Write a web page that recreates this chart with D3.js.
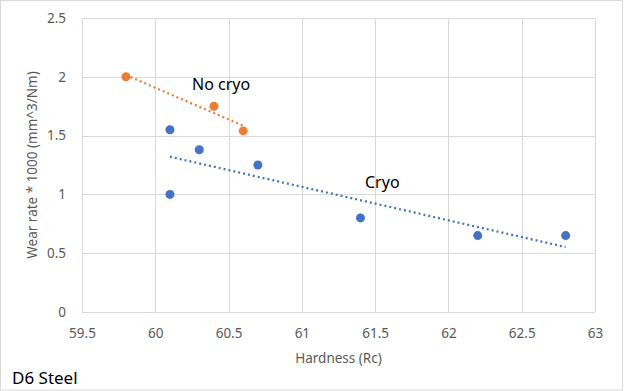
<!DOCTYPE html>
<html>
<head>
<meta charset="utf-8">
<script src="https://cdn.jsdelivr.net/npm/d3@7"></script>
<style>
  body { margin: 0; background: #fff; }
  svg { display: block; font-family: "Noto Sans", "Open Sans", sans-serif; }
</style>
</head>
<body>
<div id="chart"></div>
<script>
// hardness (Rc) vs wear rate * 1000 (mm^3/Nm)
var noCryoX = [59.8, 60.4, 60.6];
var noCryoY = [2.0, 1.75, 1.54];
var cryoX = [60.1, 60.1, 60.3, 60.7, 61.4, 62.2, 62.8];
var cryoY = [1.55, 1.0, 1.38, 1.25, 0.8, 0.65, 0.65];
var xTicks = [59.5, 60, 60.5, 61, 61.5, 62, 62.5, 63];
var yTicks = [0, 0.5, 1, 1.5, 2, 2.5];

var width = 624, height = 391;
var margin = {top: 18, right: 29, bottom: 79, left: 82};

var svg = d3.select("#chart").append("svg")
    .attr("width", width)
    .attr("height", height);

// outer chart border
svg.append("rect")
    .attr("x", 0.5).attr("y", 0.5)
    .attr("width", width - 2).attr("height", height - 1.5)
    .style("fill", "none")
    .style("stroke", "#d9d9d9");

var x = d3.scaleLinear().domain([59.5, 63]).range([margin.left, width - margin.right]);
var y = d3.scaleLinear().domain([0, 2.5]).range([height - margin.bottom, margin.top]);

// gridlines
svg.append("g").selectAll("line").data(yTicks).enter().append("line")
    .attr("x1", x(59.5)).attr("x2", x(63))
    .attr("y1", function(d) { return Math.round(y(d)) + 0.5; })
    .attr("y2", function(d) { return Math.round(y(d)) + 0.5; })
    .style("stroke", "#d9d9d9");
svg.append("g").selectAll("line").data(xTicks).enter().append("line")
    .attr("y1", y(0)).attr("y2", y(2.5))
    .attr("x1", function(d) { return Math.round(x(d)) + 0.5; })
    .attr("x2", function(d) { return Math.round(x(d)) + 0.5; })
    .style("stroke", "#d9d9d9");

// axes (labels only, lines drawn as grid)
var xAxis = svg.append("g")
    .attr("transform", "translate(0," + (y(0) + 13) + ")")
    .call(d3.axisBottom(x).tickValues(xTicks).tickSize(0).tickFormat(d3.format("")));
var yAxis = svg.append("g")
    .attr("transform", "translate(" + (x(59.5) - 13) + ",0)")
    .call(d3.axisLeft(y).tickValues(yTicks).tickSize(0).tickFormat(d3.format("")));
[xAxis, yAxis].forEach(function(a) {
    a.select(".domain").remove();
    a.selectAll("text").style("fill", "#595959").style("font-size", "13.5px")
        .style("font-family", "'Noto Sans', 'Open Sans', sans-serif");
});

// axis titles
svg.append("text")
    .attr("x", (x(59.5) + x(63)) / 2).attr("y", 363)
    .attr("text-anchor", "middle")
    .style("fill", "#595959").style("font-size", "13.5px")
    .text("Hardness (Rc)");
svg.append("text")
    .attr("transform", "translate(37," + ((y(0) + y(2.5)) / 2) + ") rotate(-90)")
    .attr("text-anchor", "middle")
    .style("fill", "#595959").style("font-size", "13.5px")
    .text("Wear rate * 1000 (mm^3/Nm)");

// linear trendline from least squares
function trend(xs, ys) {
    var mx = d3.mean(xs), my = d3.mean(ys);
    var sxy = d3.sum(xs, function(v, i) { return (v - mx) * (ys[i] - my); });
    var sxx = d3.sum(xs, function(v) { return (v - mx) * (v - mx); });
    var b = sxy / sxx, a = my - b * mx;
    var ext = d3.extent(xs);
    return ext.map(function(v) { return [v, a + b * v]; });
}

var line = d3.line().x(function(d) { return x(d[0]); }).y(function(d) { return y(d[1]); });

function drawSeries(xs, ys, color) {
    svg.append("path")
        .datum(trend(xs, ys))
        .attr("d", line)
        .style("fill", "none")
        .style("stroke", color)
        .style("stroke-width", 2.25)
        .style("stroke-dasharray", "2,3");
    svg.append("g").selectAll("circle").data(xs).enter().append("circle")
        .attr("cx", function(d) { return x(d); })
        .attr("cy", function(d, i) { return y(ys[i]); })
        .attr("r", 4.5)
        .style("fill", color);
}

drawSeries(cryoX, cryoY, "#4472c4");
drawSeries(noCryoX, noCryoY, "#ed7d31");

// annotations
svg.append("text").attr("x", 192).attr("y", 90)
    .style("font-size", "16px").style("fill", "#000").text("No cryo");
svg.append("text").attr("x", 365).attr("y", 188)
    .style("font-size", "16px").style("fill", "#000").text("Cryo");
svg.append("text").attr("x", 12).attr("y", 384)
    .style("font-size", "17px").style("fill", "#000").text("D6 Steel");
</script>
</body>
</html>
